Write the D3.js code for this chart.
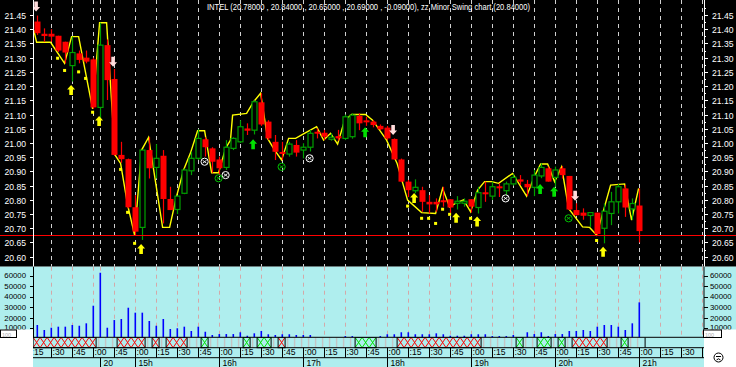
<!DOCTYPE html>
<html><head><meta charset="utf-8">
<script src="https://cdn.jsdelivr.net/npm/d3@7"></script>
<style>body{margin:0;background:#fff;overflow:hidden}svg{display:block;font-family:"Liberation Sans",Arial,sans-serif}</style>
</head><body><svg id="c" width="736" height="367"></svg>
<script>
const titleText = "INTEL (20.78000 , 20.84000 , 20.65000 , 20.69000 , -0.09000), zz Minor Swing chart (20.84000)";
const opens  = [21.427,21.384,21.384,21.377,21.356,21.272,21.315,21.30,21.294,21.125,21.344,21.225,20.958,20.943,20.774,20.703,20.975,20.914,20.955,20.803,20.766,20.823,20.902,20.946,21.013,20.981,20.942,20.914,20.981,21.004,21.051,21.045,21.143,21.075,21.004,20.965,20.961,20.993,20.975,20.985,21.036,21.036,21.015,21.024,21.016,21.022,21.095,21.076,21.075,21.06,21.054,21.014,20.942,20.864,20.832,20.834,20.793,20.793,20.795,20.802,20.79,20.79,20.802,20.773,20.823,20.813,20.844,20.832,20.856,20.872,20.856,20.844,20.884,20.911,20.879,20.911,20.884,20.764,20.755,20.745,20.755,20.70,20.752,20.793,20.84,20.768,20.78];
const highs  = [21.448,21.403,21.40,21.377,21.356,21.374,21.325,21.325,21.30,21.423,21.364,21.26,21.004,20.945,20.817,20.975,21.02,20.996,20.975,20.846,20.815,20.91,20.969,21.048,21.02,20.985,20.952,21.01,21.02,21.08,21.069,21.15,21.175,21.08,21.028,21.004,21.004,21.01,20.999,21.046,21.051,21.046,21.034,21.046,21.10,21.104,21.104,21.092,21.08,21.065,21.06,21.016,20.945,20.87,20.872,20.846,20.817,20.805,20.846,20.802,20.813,20.805,20.802,20.846,20.864,20.864,20.858,20.864,20.89,20.887,20.87,20.905,20.928,20.917,20.917,20.919,20.884,20.788,20.77,20.755,20.755,20.787,20.828,20.856,20.852,20.805,20.84];
const lows   = [21.38,21.356,21.356,21.32,21.28,21.216,21.28,21.28,21.12,21.08,21.151,20.955,20.93,20.77,20.676,20.659,20.875,20.875,20.717,20.764,20.75,20.82,20.887,20.94,20.952,20.895,20.887,20.905,20.975,21.0,21.028,21.03,21.06,21.01,20.94,20.94,20.952,20.952,20.946,20.97,21.016,21.01,21.008,21.008,21.01,21.015,21.045,21.06,21.055,21.045,21.01,20.94,20.862,20.81,20.823,20.758,20.752,20.758,20.776,20.752,20.766,20.776,20.755,20.752,20.793,20.80,20.81,20.817,20.85,20.852,20.813,20.813,20.876,20.864,20.846,20.875,20.764,20.745,20.73,20.705,20.676,20.647,20.711,20.752,20.74,20.729,20.65];
const closes = [21.386,21.376,21.374,21.325,21.318,21.318,21.292,21.286,21.125,21.344,21.221,20.958,20.943,20.774,20.688,20.975,20.911,20.946,20.803,20.764,20.813,20.905,20.946,21.016,20.985,20.934,20.911,20.985,21.016,21.057,21.043,21.145,21.065,21.016,20.969,20.96,20.996,20.966,20.985,21.034,21.032,21.022,21.02,21.016,21.092,21.098,21.069,21.072,21.063,21.048,21.016,20.942,20.864,20.834,20.844,20.793,20.784,20.784,20.79,20.773,20.795,20.795,20.776,20.825,20.816,20.846,20.837,20.856,20.879,20.864,20.844,20.887,20.914,20.864,20.905,20.887,20.766,20.746,20.744,20.755,20.68,20.76,20.793,20.846,20.773,20.787,20.69];
const volumes = [13100,8350,10500,11500,11500,13100,12400,14700,31400,62700,10500,17800,18800,29500,24800,24800,16900,12400,18800,9300,10000,11500,7400,11500,6700,3600,4500,4500,4500,6200,2900,5200,7400,4300,3600,4300,4300,3600,3600,3600,1000,1000,1000,1000,2600,2600,1000,1000,1000,2600,4300,4300,6200,6200,4300,4300,4300,5200,4300,2900,2900,2900,4300,4300,4300,2600,2600,2600,3600,1000,6200,4500,6200,2600,4500,4500,7400,7400,8350,7400,11500,13100,13100,11500,8350,14700,34600];
const swingIdx   = [-0.4,0,2,4,5,6,8,9,10,11.2,12,13,14,15,16,18,19,20,21,22,23,24,25,26,27,27.7,28,30,31,32,33,34,35,36,37,38,40,41,42,43,44,45,47,48,50,51.5,53,55,57,58,59,60,61,62,63,64,65,66,68,70,71,72,73,74,75,76,78,79,80,82,84,85,86];
const swingPrice = [21.397,21.354,21.354,21.28,21.374,21.374,21.12,21.423,21.423,20.958,20.928,20.782,20.676,20.975,21.02,20.703,20.703,20.813,20.905,20.966,21.043,21.043,20.895,20.895,20.981,21.01,21.098,21.104,21.145,21.175,21.016,20.975,20.94,21.016,21.016,21.03,21.057,21.01,21.034,20.996,21.08,21.10,21.10,21.08,21.01,20.928,20.799,20.755,20.752,20.84,20.775,20.79,20.80,20.758,20.834,20.864,20.864,20.858,20.893,20.813,20.876,20.926,20.926,20.864,20.916,20.77,20.705,20.703,20.676,20.852,20.856,20.729,20.84];
const dotIdx   = [3,4,6,7,8,12,13,14,53,55,56,57,58,59,62,80];
const dotPrice = [21.298,21.255,21.25,21.227,21.108,20.907,20.756,20.647,20.778,20.735,20.735,20.717,20.767,20.749,20.735,20.657];
const upYellowIdx = [5,9,15,54,60,63,81];
const upYellowTip = [21.204,21.095,20.645,20.824,20.755,20.741,20.635];
const upGreenIdx = [31,47,72,74];
const upGreenTip = [21.013,21.055,20.856,20.846];
const downWhiteIdx = [0,11,51,77];
const downWhiteTip = [21.462,21.268,21.028,20.797];
const whiteCircIdx = [24,27,39,67];
const whiteCircPrice = [20.934,20.887,20.946,20.805];
const greenCircIdx = [26,35,76];
const greenCircPrice = [20.876,20.916,20.735];
const redRuns = [[0,8],[12,15],[17,17],[19,21],[35,35],[52,63],[77,81]];
const greenRuns = [[24,24],[30,30],[32,33],[46,48],[69,69],[72,73],[75,75],[84,84]];
const refPrice = 20.675;
const priceTicks = [20.60,20.65,20.70,20.75,20.80,20.85,20.90,20.95,21.00,21.05,21.10,21.15,21.20,21.25,21.30,21.35,21.40,21.45];
const volTicks = [10000,20000,30000,40000,50000,60000];
const gridIdx = [2,5,8,9,11,14,17,20,23,26,29,32,35,38,41,44,47,50,53,56,59,62,65,68,71,74,77,80,83,86,89,92,95];
const minuteIdx = [-1,2,5,8,11,14,17,20,23,26,29,32,35,38,41,44,47,50,53,56,59,62,65,68,71,74,77,80,83,86,89,92,95];
const minuteTxt = [":15",":30",":45",":00",":45",":00",":15",":30",":45",":00",":15",":30",":45",":00",":15",":30",":45",":00",":15",":30",":45",":00",":15",":30",":45",":00",":15",":30",":45",":00",":15",":30",":45"];
const hourIdx = [9,14,26,38,50,62,74,86];
const hourTxt = ["20","15h","16h","17h","18h","19h","20h","21h"];

const svg = d3.select('#c');
const L = 33, R = 704, mainB = 266.7, volB = 337.3, stripB = 347.7, rowB = 357.7;
const x = d3.scaleLinear().domain([0, 95]).range([36.6, 701.6]);
const y = d3.scaleLinear().domain([20.60, 21.45]).range([256.7, 15]);
const yv = d3.scaleLinear().domain([0, 60000]).range([338.8, 275.6]);
const N = closes.length;

const defs = svg.append('defs');
defs.append('clipPath').attr('id','mainClip').append('rect').attr('x',L).attr('y',0).attr('width',R-L).attr('height',mainB);
defs.append('clipPath').attr('id','volClip').append('rect').attr('x',L).attr('y',mainB).attr('width',R-L-0.5).attr('height',volB-mainB);
defs.append('clipPath').attr('id','axClip').append('rect').attr('x',L).attr('y',volB).attr('width',R-L-0.5).attr('height',367-volB);

// backgrounds
svg.append('rect').attr('x',0).attr('y',0).attr('width',736).attr('height',mainB).attr('fill','#000');
svg.append('rect').attr('x',0).attr('y',mainB).attr('width',736).attr('height',367-mainB).attr('fill','#afeeee');

// grid
const gMain = svg.append('g').attr('clip-path','url(#mainClip)');
gMain.selectAll('line.g').data(gridIdx).join('line')
  .attr('x1',d=>Math.round(x(d))+0.5).attr('x2',d=>Math.round(x(d))+0.5).attr('y1',0).attr('y2',mainB)
  .attr('stroke','#d0d0d0').attr('stroke-dasharray','4,4');
const gVol = svg.append('g').attr('clip-path','url(#volClip)');
gVol.selectAll('line.g').data(gridIdx).join('line')
  .attr('x1',d=>Math.round(x(d))+0.5).attr('x2',d=>Math.round(x(d))+0.5).attr('y1',mainB).attr('y2',volB)
  .attr('stroke','#d4a8a8').attr('stroke-dasharray','4,4');

// reference line
svg.append('line').attr('x1',0).attr('x2',736).attr('y1',Math.round(y(refPrice))+0.5).attr('y2',Math.round(y(refPrice))+0.5).attr('stroke','#ff0000');

// swing line
gMain.append('path').datum(swingIdx.map((d,i)=>[d,swingPrice[i]]))
  .attr('d', d3.line().x(d=>x(d[0])).y(d=>y(d[1])))
  .attr('fill','none').attr('stroke','#ffff00').attr('stroke-width',1.4);

// candles
const bars = d3.range(N).map(i=>({i,o:opens[i],h:highs[i],l:lows[i],c:closes[i]}));
const cg = gMain.append('g');
bars.forEach(b=>{
  const up = b.c > b.o;
  const col = up ? '#00a000' : '#ff0000';
  const cx = Math.round(x(b.i))+0.5;
  cg.append('line').attr('x1',cx).attr('x2',cx).attr('y1',y(b.h)).attr('y2',y(b.l)).attr('stroke',col).attr('stroke-width',1.2);
  const top = y(Math.max(b.o,b.c)), bot = y(Math.min(b.o,b.c));
  const hgt = Math.max(bot-top, 2);
  if (up) {
    cg.append('rect').attr('x',cx-2.5).attr('y',top).attr('width',5).attr('height',hgt)
      .attr('fill','#000').attr('stroke',col).attr('stroke-width',1.2);
  } else {
    cg.append('rect').attr('x',cx-3).attr('y',top-(hgt>bot-top?1:0)).attr('width',6).attr('height',hgt).attr('fill',col);
  }
});

// yellow dots
gMain.selectAll('rect.dot').data(dotIdx).join('rect').attr('class','dot')
  .attr('x',d=>x(d)-1.5).attr('y',(d,i)=>y(dotPrice[i])-1.5).attr('width',3).attr('height',3).attr('fill','#ffff00');

// arrows
function upArrow(cx, ty){
  return `M${cx},${ty}L${cx+4},${ty+4.5}L${cx+1.8},${ty+4.5}L${cx+1.8},${ty+10}L${cx-1.8},${ty+10}L${cx-1.8},${ty+4.5}L${cx-4},${ty+4.5}Z`;
}
function downArrow(cx, by){
  return `M${cx},${by}L${cx+4},${by-4.5}L${cx+1.8},${by-4.5}L${cx+1.8},${by-10}L${cx-1.8},${by-10}L${cx-1.8},${by-4.5}L${cx-4},${by-4.5}Z`;
}
gMain.selectAll('path.uy').data(upYellowIdx).join('path').attr('d',(d,i)=>upArrow(x(d)-0.5,y(upYellowTip[i]))).attr('fill','#ffff00');
gMain.selectAll('path.ug').data(upGreenIdx).join('path').attr('d',(d,i)=>upArrow(x(d)-0.5,y(upGreenTip[i]))).attr('fill','#00e000');
gMain.selectAll('path.dw').data(downWhiteIdx).join('path').attr('d',(d,i)=>downArrow(x(d)-0.5,y(downWhiteTip[i]))).attr('fill','#ffdcdc');

// circle markers
function circ(idxs, prices, col){
  idxs.forEach((d,i)=>{
    const cx = x(d), cy = y(prices[i]);
    gMain.append('circle').attr('cx',cx).attr('cy',cy).attr('r',3.6).attr('fill','none').attr('stroke',col).attr('stroke-width',1);
    gMain.append('path').attr('d',`M${cx-2},${cy-1.5}L${cx+2},${cy+1.5}M${cx-2},${cy+1.5}L${cx+2},${cy-1.5}`).attr('stroke',col).attr('stroke-width',0.9);
  });
}
circ(whiteCircIdx, whiteCircPrice, '#ffffff');
circ(greenCircIdx, greenCircPrice, '#00c000');

// volume bars
gVol.selectAll('rect.v').data(volumes).join('rect')
  .attr('x',(d,i)=>Math.round(x(i))-0.5).attr('width',1.6)
  .attr('y',d=>yv(d)).attr('height',d=>Math.max(0,yv(0)-yv(d))).attr('fill','#0000ff');

// axes lines
svg.append('line').attr('x1',L+0.5).attr('x2',L+0.5).attr('y1',0).attr('y2',mainB).attr('stroke','#fff');
svg.append('line').attr('x1',R+0.5).attr('x2',R+0.5).attr('y1',0).attr('y2',mainB).attr('stroke','#fff');
svg.append('line').attr('x1',L+0.5).attr('x2',L+0.5).attr('y1',mainB).attr('y2',volB).attr('stroke','#000');
svg.append('line').attr('x1',R).attr('x2',R).attr('y1',mainB).attr('y2',volB).attr('stroke','#000');

// price ticks and labels
const fs = '8.6px';
priceTicks.forEach(p=>{
  const yy = Math.round(y(p))+0.5;
  svg.append('line').attr('x1',R).attr('x2',R+4).attr('y1',yy).attr('y2',yy).attr('stroke','#fff');
  svg.append('line').attr('x1',L-3).attr('x2',L).attr('y1',yy).attr('y2',yy).attr('stroke','#fff');
  svg.append('line').attr('x1',R).attr('x2',R+2).attr('y1',Math.round(y(p+0.025))+0.5).attr('y2',Math.round(y(p+0.025))+0.5).attr('stroke','#fff');
  svg.append('text').attr('x',26).attr('y',yy+3).attr('text-anchor','end').attr('fill','#fff').attr('font-size',fs).text(p.toFixed(2));
  svg.append('text').attr('x',712).attr('y',yy+3).attr('fill','#fff').attr('font-size',fs).text(p.toFixed(2));
});
volTicks.forEach(v=>{
  const yy = Math.round(yv(v))+0.5;
  const ty = Math.min(yv(v)+2.8, 329.6);
  svg.append('line').attr('x1',L-3).attr('x2',L).attr('y1',yy).attr('y2',yy).attr('stroke','#000');
  svg.append('line').attr('x1',R).attr('x2',R+4).attr('y1',yy).attr('y2',yy).attr('stroke','#000');
  svg.append('text').attr('x',26).attr('y',ty).attr('text-anchor','end').attr('fill','#000').attr('font-size','7.8px').text(v);
  svg.append('text').attr('x',710).attr('y',ty).attr('fill','#000').attr('font-size','7.8px').text(v);
});

// title
svg.append('text').attr('x',207).attr('y',10).attr('fill','#fff').attr('font-size','9px')
  .attr('textLength',323).attr('lengthAdjust','spacingAndGlyphs').text(titleText);

// strip
const gAx = svg.append('g').attr('clip-path','url(#axClip)');
const inRun = new Set();
redRuns.concat(greenRuns).forEach(r=>{for(let k=r[0];k<=r[1];k++) inRun.add(k);});
d3.range(N).filter(i=>!inRun.has(i)).forEach(i=>{
  gAx.append('line').attr('x1',x(i)-1).attr('x2',x(i)-1).attr('y1',volB).attr('y2',stripB).attr('stroke','#c4c4c4').attr('stroke-width',1.4);
});
function runs(list, col){
  list.forEach(r=>{
    for(let k=r[0];k<=r[1];k++){
      const x0 = x(k)-3.5, x1 = x(k)+3.5;
      gAx.append('path').attr('d',`M${x0},${volB}L${x1},${stripB}M${x0},${stripB}L${x1},${volB}`).attr('stroke',col).attr('stroke-width',1);
    }
    gAx.append('rect').attr('x',x(r[0])-3.5).attr('y',volB).attr('width',x(r[1])-x(r[0])+7).attr('height',stripB-volB)
      .attr('fill','none').attr('stroke','#000').attr('stroke-width',1);
  });
}
runs(redRuns,'#ff0000');
runs(greenRuns,'#00e000');
gAx.append('line').attr('x1',x(N)-0.5).attr('x2',x(N)-0.5).attr('y1',volB).attr('y2',stripB).attr('stroke','#000');
[volB, stripB, rowB].forEach(yy=>{
  svg.append('line').attr('x1',L).attr('x2',R).attr('y1',yy).attr('y2',yy).attr('stroke','#000');
});
minuteIdx.forEach((d,i)=>{
  const xx = Math.round(x(d))+0.5;
  gAx.append('line').attr('x1',xx).attr('x2',xx).attr('y1',stripB).attr('y2',rowB).attr('stroke','#000');
  gAx.append('text').attr('x',xx+1).attr('y',rowB-2.5).attr('fill','#000').attr('font-size',fs).text(minuteTxt[i]);
});
hourIdx.forEach((d,i)=>{
  const xx = Math.round(x(d))+0.5;
  gAx.append('line').attr('x1',xx).attr('x2',xx).attr('y1',rowB).attr('y2',367).attr('stroke','#000');
  gAx.append('text').attr('x',xx+3).attr('y',366).attr('fill','#000').attr('font-size',fs).text(hourTxt[i]);
});

// white corner areas
svg.append('rect').attr('x',0).attr('y',329.5).attr('width',L).attr('height',38).attr('fill','#fff');
svg.append('rect').attr('x',R).attr('y',329.5).attr('width',736-R).attr('height',38).attr('fill','#fff');
svg.append('rect').attr('x',0.5).attr('y',330).attr('width',16).attr('height',7.5).attr('fill','#fff').attr('stroke','#000');
svg.append('text').attr('x',2).attr('y',337.2).attr('fill','#aaa').attr('font-size','5.5px').text('100');
svg.append('rect').attr('x',R-0.5).attr('y',330).attr('width',18).attr('height',7.5).attr('fill','#fff').attr('stroke','#000');
svg.append('text').attr('x',R+1).attr('y',337.2).attr('fill','#aaa').attr('font-size','5.5px').text('100');
svg.append('line').attr('x1',L+0.5).attr('x2',L+0.5).attr('y1',329).attr('y2',volB).attr('stroke','#000');
// face icon
const fx = 718.5, fy = 357.5;
svg.append('circle').attr('cx',fx).attr('cy',fy).attr('r',4.5).attr('fill','none').attr('stroke','#000').attr('stroke-width',1);
svg.append('line').attr('x1',fx-2.5).attr('x2',fx+2.5).attr('y1',fy-1).attr('y2',fy-1).attr('stroke','#000');
svg.append('path').attr('d',`M${fx-2},${fy+2.5}Q${fx},${fy} ${fx+2},${fy+2.5}`).attr('fill','none').attr('stroke','#000');
</script></body></html>
